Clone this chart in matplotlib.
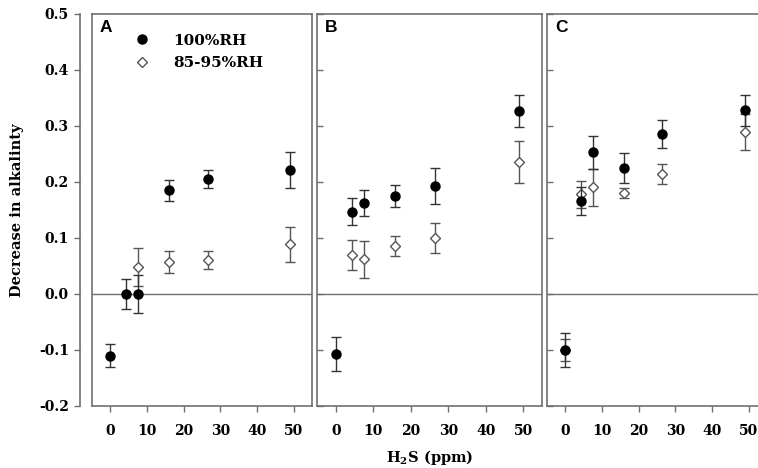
import matplotlib
matplotlib.use("Agg")
import matplotlib.pyplot as plt
from matplotlib.lines import Line2D

# H2S concentrations (ppm)
h2s = [0, 4.4, 7.5, 15.9, 26.5, 48.9]

# panel A
a_full = [-0.11, 0.0, 0.0, 0.185, 0.206, 0.222]
a_full_err = [0.02, 0.027, 0.034, 0.019, 0.016, 0.032]
a_part_x = [7.5, 15.9, 26.5, 48.9]
a_part = [0.049, 0.057, 0.060, 0.089]
a_part_err = [0.034, 0.019, 0.016, 0.031]

# panel B
b_full = [-0.107, 0.147, 0.162, 0.175, 0.193, 0.327]
b_full_err = [0.031, 0.024, 0.023, 0.02, 0.032, 0.029]
b_part_x = [4.4, 7.5, 15.9, 26.5, 48.9]
b_part = [0.070, 0.062, 0.085, 0.100, 0.236]
b_part_err = [0.027, 0.033, 0.018, 0.027, 0.037]

# panel C
c_full = [-0.10, 0.166, 0.253, 0.225, 0.286, 0.328]
c_full_err = [0.03, 0.025, 0.03, 0.026, 0.025, 0.028]
c_part_x = [0, 4.4, 7.5, 15.9, 26.5, 48.9]
c_part = [-0.10, 0.178, 0.191, 0.181, 0.215, 0.289]
c_part_err = [0.019, 0.024, 0.033, 0.009, 0.018, 0.032]

panels = [
    ("A", a_full, a_full_err, a_part_x, a_part, a_part_err),
    ("B", b_full, b_full_err, b_part_x, b_part, b_part_err),
    ("C", c_full, c_full_err, c_part_x, c_part, c_part_err),
]

yticks = [-0.2, -0.1, 0.0, 0.1, 0.2, 0.3, 0.4, 0.5]
xticks = [0, 10, 20, 30, 40, 50]

plt.rcParams["font.family"] = "DejaVu Serif"
plt.rcParams["font.weight"] = "bold"
plt.rcParams["mathtext.fontset"] = "custom"
plt.rcParams["mathtext.bf"] = "DejaVu Serif:bold"
plt.rcParams["mathtext.rm"] = "DejaVu Serif:bold"

edge = "#6f6f6f"
fig = plt.figure(figsize=(7.58, 4.68), dpi=100)

bottom, height = 0.1325, 0.8376
lefts = [0.1214, 0.4182, 0.7216]
widths = [0.2902, 0.2968, 0.2950]
xmax = [55, 55, 56]   # last panel runs off the right edge

# separate y axis on the far left
yax = fig.add_axes([0.1055, bottom, 0.0001, height])
yax.set_ylim(-0.2, 0.5)
yax.set_yticks(yticks)
yax.set_yticklabels([f"{v:.1f}" for v in yticks], fontsize=10)
yax.set_xticks([])
for s in ["top", "right", "bottom"]:
    yax.spines[s].set_visible(False)
yax.spines["left"].set_color(edge)
yax.spines["left"].set_linewidth(1.2)
yax.tick_params(axis="y", direction="out", length=4, width=1, color=edge, pad=4)

for i, (lab, full, full_err, px, part, part_err) in enumerate(panels):
    ax = fig.add_axes([lefts[i], bottom, widths[i], height])
    ax.set_xlim(-5, xmax[i])
    ax.set_ylim(-0.2, 0.5)
    ax.axhline(0, color=edge, lw=1.0, zorder=1)
    ax.errorbar(px, part, yerr=part_err, fmt="D", ms=5.5, mfc="white",
                mec="#555555", mew=1.0, ecolor="#555555", elinewidth=1,
                capsize=3.6, capthick=1, zorder=2)
    ax.errorbar(h2s, full, yerr=full_err, fmt="o", ms=6.5, mfc="black",
                mec="black", ecolor="#333333", elinewidth=1,
                capsize=3.6, capthick=1, zorder=3)
    ax.set_xticks(xticks)
    ax.set_xticklabels([str(v) for v in xticks], fontsize=10)
    ax.set_yticks(yticks)
    ax.set_yticklabels([])
    for s in ax.spines.values():
        s.set_color(edge)
        s.set_linewidth(1.2)
    ax.tick_params(axis="x", direction="out", length=4, width=1, color=edge, pad=9)
    if i == 0:
        ax.tick_params(axis="y", length=0)
    else:
        ax.tick_params(axis="y", direction="in", length=4, width=1, color=edge)
    ax.text(0.035, 0.985, lab, transform=ax.transAxes, ha="left", va="top",
            fontsize=12.5, fontweight="bold", family="Liberation Sans")
    if i == 0:
        handles = [
            Line2D([], [], ls="none", marker="o", ms=6.5, mfc="black", mec="black"),
            Line2D([], [], ls="none", marker="D", ms=5.5, mfc="white", mec="#555555"),
        ]
        ax.legend(handles, ["100%RH", "85-95%RH"], loc="upper left",
                  bbox_to_anchor=(0.132, 0.985), frameon=False, fontsize=11,
                  handletextpad=1.5, labelspacing=0.55, handlelength=1.0)

fig.text(0.022, 0.55, "Decrease in alkalinty", rotation=90, ha="center",
         va="center", fontsize=10.5, fontweight="bold")
fig.text(0.567, 0.022, r"$\mathbf{H_2S}$ (ppm)", ha="center", va="center",
         fontsize=10.5, fontweight="bold")

fig.savefig("out.png", dpi=100)
